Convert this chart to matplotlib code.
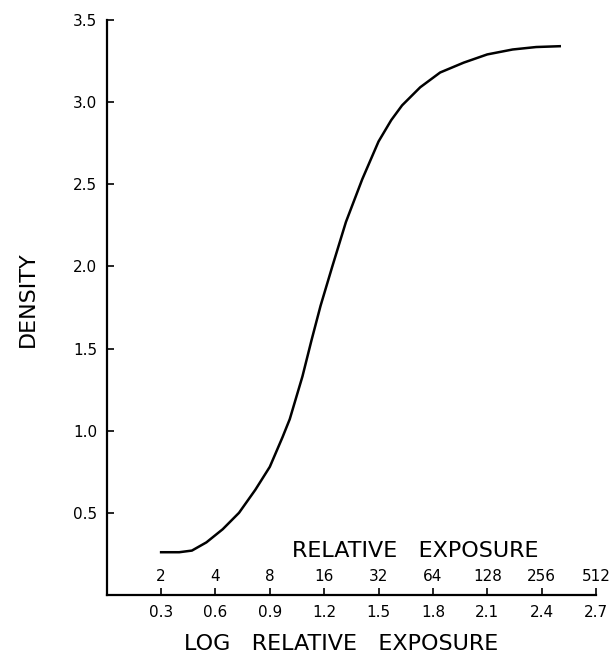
import numpy as np
import matplotlib.pyplot as plt

# characteristic curve
log_e = [0.30, 0.40, 0.47, 0.55, 0.64, 0.73, 0.82, 0.90, 0.97, 1.01,
         1.08, 1.13, 1.18, 1.245, 1.32, 1.41, 1.50, 1.57, 1.63, 1.73,
         1.84, 1.97, 2.10, 2.24, 2.37, 2.50]
density = [0.26, 0.26, 0.27, 0.32, 0.40, 0.50, 0.64, 0.78, 0.96, 1.07,
           1.33, 1.55, 1.76, 2.00, 2.27, 2.53, 2.76, 2.89, 2.98, 3.09,
           3.18, 3.24, 3.29, 3.32, 3.335, 3.34]

log_ticks = [0.3, 0.6, 0.9, 1.2, 1.5, 1.8, 2.1, 2.4, 2.7]
log_labels = ['0.3', '0.6', '0.9', '1.2', '1.5', '1.8', '2.1', '2.4', '2.7']
rel_labels = ['2', '4', '8', '16', '32', '64', '128', '256', '512']
d_ticks = [0.5, 1.0, 1.5, 2.0, 2.5, 3.0, 3.5]
d_labels = ['0.5', '1.0', '1.5', '2.0', '2.5', '3.0', '3.5']

fig = plt.figure(figsize=(6.1, 6.64), dpi=100)
ax = fig.add_axes([0.175, 0.104, 0.802, 0.866])

ax.plot(log_e, density, color='black', lw=1.8, solid_joinstyle='round')

ax.set_xlim(0, 2.7)
ax.set_ylim(0, 3.5)
for s in ['top', 'right']:
    ax.spines[s].set_visible(False)
for s in ['left', 'bottom']:
    ax.spines[s].set_linewidth(1.6)

ax.set_xticks(log_ticks)
ax.set_xticklabels(log_labels, fontsize=11)
ax.set_yticks(d_ticks)
ax.set_yticklabels(d_labels, fontsize=11)
ax.tick_params(direction='in', length=5, width=1.2, pad=7)

# relative exposure numbers above the axis
for x, lab in zip(log_ticks, rel_labels):
    ax.annotate(lab, (x, 0), xycoords=ax.get_xaxis_transform(),
                xytext=(0, 13), textcoords='offset points',
                ha='center', va='center', fontsize=11)

ax.text(0.63, 0.077, 'RELATIVE   EXPOSURE', transform=ax.transAxes,
        ha='center', va='center', fontsize=16)
ax.set_xlabel('LOG   RELATIVE   EXPOSURE', fontsize=16)
ax.xaxis.set_label_coords(0.48, -0.068)
ax.set_ylabel('DENSITY', fontsize=16)
ax.yaxis.set_label_coords(-0.14, 0.515)

fig.savefig('out.png', dpi=100)
